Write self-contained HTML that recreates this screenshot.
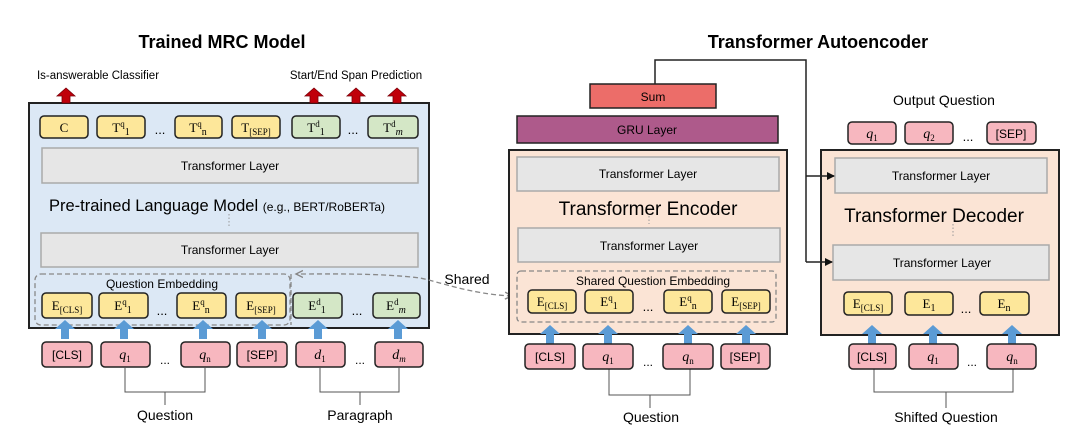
<!DOCTYPE html>
<html><head><meta charset="utf-8"><style>
body{margin:0;background:#fff;}
svg{display:block;font-family:"Liberation Sans",sans-serif;}
.s{font-family:"Liberation Serif",serif;}
</style></head><body>
<svg width="1080" height="436" viewBox="0 0 1080 436">
<defs>
<marker id="ah" markerWidth="8" markerHeight="8" refX="7" refY="4" orient="auto" markerUnits="userSpaceOnUse"><path d="M0,0 L8,4 L0,8 z" fill="#111"/></marker>
<marker id="ag" markerWidth="9" markerHeight="9" refX="7" refY="4.5" orient="auto" markerUnits="userSpaceOnUse"><path d="M0,1 L7,4.5 L0,8" fill="none" stroke="#888" stroke-width="1.4"/></marker>
<marker id="ags" markerWidth="9" markerHeight="9" refX="1" refY="4.5" orient="auto" markerUnits="userSpaceOnUse"><path d="M8,1 L1,4.5 L8,8" fill="none" stroke="#888" stroke-width="1.4"/></marker>
<g id="ra"><path d="M-4,14 V7 H-9 L0,-1 L9,7 H4 V14 z" fill="#c0000b" stroke="#7a0008" stroke-width="0.8"/></g>
<g id="ba"><path d="M-4,18 V8 H-10 L0,-1 L10,8 H4 V18 z" fill="#5b9bd5"/></g>
</defs>

<text x="222" y="48" font-size="18" font-weight="bold" text-anchor="middle">Trained MRC Model</text>
<text x="818" y="48" font-size="18" font-weight="bold" text-anchor="middle">Transformer Autoencoder</text>
<text x="98" y="79" font-size="11.5" text-anchor="middle">Is-answerable Classifier</text>
<text x="356" y="79" font-size="11.5" text-anchor="middle">Start/End Span Prediction</text>

<rect x="29" y="103" width="400" height="225" fill="#dce8f5" stroke="#222" stroke-width="2"/>
<use href="#ra" x="66" y="89"/><use href="#ra" x="314" y="89"/><use href="#ra" x="356" y="89"/><use href="#ra" x="397" y="89"/>
<g stroke="#222" stroke-width="1.5">
<rect x="40" y="116" width="48" height="22" rx="4" fill="#fde79a"/>
<rect x="97" y="116" width="48" height="22" rx="4" fill="#fde79a"/>
<rect x="175" y="116" width="47" height="22" rx="4" fill="#fde79a"/>
<rect x="232" y="116" width="48" height="22" rx="4" fill="#fde79a"/>
<rect x="292" y="116" width="48" height="22" rx="4" fill="#d4e7c6"/>
<rect x="368" y="116" width="50" height="22" rx="4" fill="#d4e7c6"/>
</g>
<g class="s" font-size="13" text-anchor="middle">
<text x="64" y="132" class="s">C</text>
<text x="121" y="132" class="s">T<tspan font-size="9" dy="-5">q</tspan><tspan font-size="10" dy="8">1</tspan></text>
<text x="198" y="132" class="s">T<tspan font-size="9" dy="-5">q</tspan><tspan font-size="10" dy="8">n</tspan></text>
<text x="256" y="132" class="s">T<tspan font-size="9" dy="3">[SEP]</tspan></text>
<text x="316" y="132" class="s">T<tspan font-size="9" dy="-5">d</tspan><tspan font-size="10" dy="8">1</tspan></text>
<text x="393" y="132" class="s">T<tspan font-size="9" dy="-5">d</tspan><tspan font-size="10" dy="8" font-style="italic">m</tspan></text>
</g>
<text x="160" y="134" font-size="13" text-anchor="middle">...</text>
<text x="353" y="134" font-size="13" text-anchor="middle">...</text>
<rect x="42" y="148" width="376" height="35" fill="#e6e6e6" stroke="#aaa" stroke-width="1.5"/>
<text x="230" y="170" font-size="12" text-anchor="middle">Transformer Layer</text>
<text x="49" y="211" font-size="16.5">Pre-trained Language Model <tspan font-size="12">(e.g., BERT/RoBERTa)</tspan></text>
<line x1="229" y1="214" x2="229" y2="226" stroke="#999" stroke-dasharray="1.5,2"/>
<rect x="41" y="233" width="377" height="34" fill="#e6e6e6" stroke="#aaa" stroke-width="1.5"/>
<text x="230" y="254" font-size="12" text-anchor="middle">Transformer Layer</text>
<rect x="35" y="274" width="255" height="51" rx="6" fill="none" stroke="#888" stroke-width="1.3" stroke-dasharray="5,3"/>
<text x="162" y="288" font-size="12" text-anchor="middle">Question Embedding</text>
<g stroke="#222" stroke-width="1.5">
<rect x="42" y="293" width="50" height="25" rx="4" fill="#fde79a"/>
<rect x="99" y="293" width="49" height="25" rx="4" fill="#fde79a"/>
<rect x="177" y="293" width="49" height="25" rx="4" fill="#fde79a"/>
<rect x="236" y="293" width="50" height="25" rx="4" fill="#fde79a"/>
<rect x="293" y="293" width="49" height="25" rx="4" fill="#d4e7c6"/>
<rect x="373" y="293" width="47" height="25" rx="4" fill="#d4e7c6"/>
</g>
<g font-size="13" text-anchor="middle">
<text x="67" y="310" class="s">E<tspan font-size="9" dy="3">[CLS]</tspan></text>
<text x="123" y="310" class="s">E<tspan font-size="9" dy="-5">q</tspan><tspan font-size="10" dy="8">1</tspan></text>
<text x="201" y="310" class="s">E<tspan font-size="9" dy="-5">q</tspan><tspan font-size="10" dy="8">n</tspan></text>
<text x="261" y="310" class="s">E<tspan font-size="9" dy="3">[SEP]</tspan></text>
<text x="317" y="310" class="s">E<tspan font-size="9" dy="-5">d</tspan><tspan font-size="10" dy="8">1</tspan></text>
<text x="396" y="310" class="s">E<tspan font-size="9" dy="-5">d</tspan><tspan font-size="10" dy="8" font-style="italic">m</tspan></text>
</g>
<text x="162" y="315" font-size="13" text-anchor="middle">...</text>
<text x="357" y="315" font-size="13" text-anchor="middle">...</text>
<use href="#ba" x="65" y="321"/><use href="#ba" x="124" y="321"/><use href="#ba" x="203" y="321"/><use href="#ba" x="262" y="321"/><use href="#ba" x="318" y="321"/><use href="#ba" x="398" y="321"/>
<g stroke="#222" stroke-width="1.5" fill="#f7b7bf">
<rect x="42" y="342" width="50" height="25" rx="4"/>
<rect x="101" y="342" width="49" height="25" rx="4"/>
<rect x="181" y="342" width="49" height="25" rx="4"/>
<rect x="237" y="342" width="50" height="25" rx="4"/>
<rect x="296" y="342" width="49" height="25" rx="4"/>
<rect x="375" y="342" width="48" height="25" rx="4"/>
</g>
<g font-size="12" text-anchor="middle">
<text x="67" y="359">[CLS]</text>
<text x="125" y="359" class="s" font-style="italic" font-size="14">q<tspan font-size="9" font-style="normal" dy="3">1</tspan></text>
<text x="205" y="359" class="s" font-style="italic" font-size="14">q<tspan font-size="9" font-style="normal" dy="3">n</tspan></text>
<text x="262" y="359">[SEP]</text>
<text x="320" y="359" class="s" font-style="italic" font-size="14">d<tspan font-size="9" font-style="normal" dy="3">1</tspan></text>
<text x="399" y="359" class="s" font-style="italic" font-size="14">d<tspan font-size="9" dy="3">m</tspan></text>
</g>
<text x="165" y="364" font-size="12" text-anchor="middle">...</text>
<text x="360" y="364" font-size="12" text-anchor="middle">...</text>
<g stroke="#555" fill="none" stroke-width="1">
<path d="M125,367 V392 H205 V367 M165,392 V405"/>
<path d="M320,367 V392 H399 V367 M360,392 V405"/>
<path d="M609,369 V395 H690 V369 M650,395 V408"/>
<path d="M874,369 V392 H1013 V369 M946,392 V408"/>
</g>
<text x="165" y="420" font-size="14" text-anchor="middle">Question</text>
<text x="360" y="420" font-size="14" text-anchor="middle">Paragraph</text>
<text x="651" y="422" font-size="14" text-anchor="middle">Question</text>
<text x="946" y="422" font-size="14" text-anchor="middle">Shifted Question</text>

<path d="M291,274 V325" stroke="#888" stroke-width="1.3" stroke-dasharray="5,3" fill="none"/>
<path d="M512,296 C470,294 440,282 420,278 C380,273 330,274 296,274" stroke="#888" stroke-width="1.3" stroke-dasharray="5,3" fill="none" marker-start="url(#ags)" marker-end="url(#ag)"/>
<text x="467" y="284" font-size="14" text-anchor="middle">Shared</text>

<rect x="590" y="84" width="126" height="24" fill="#ec6d69" stroke="#222" stroke-width="1.5"/>
<text x="653" y="101" font-size="12" text-anchor="middle">Sum</text>
<rect x="517" y="116" width="261" height="27" fill="#ae5a8b" stroke="#222" stroke-width="1.5"/>
<text x="647" y="134" font-size="12" text-anchor="middle">GRU Layer</text>
<rect x="509" y="150" width="278" height="184" fill="#fbe4d5" stroke="#222" stroke-width="2"/>
<rect x="517" y="157" width="262" height="34" fill="#e6e6e6" stroke="#aaa" stroke-width="1.5"/>
<text x="648" y="178" font-size="12" text-anchor="middle">Transformer Layer</text>
<text x="648" y="215" font-size="19" text-anchor="middle">Transformer Encoder</text>
<line x1="649" y1="216" x2="649" y2="224" stroke="#999" stroke-dasharray="1.5,2"/>
<rect x="518" y="228" width="262" height="34" fill="#e6e6e6" stroke="#aaa" stroke-width="1.5"/>
<text x="649" y="250" font-size="12" text-anchor="middle">Transformer Layer</text>
<rect x="517" y="271" width="259" height="51" rx="4" fill="none" stroke="#888" stroke-width="1.3" stroke-dasharray="5,3"/>
<text x="653" y="285" font-size="12" text-anchor="middle">Shared Question Embedding</text>
<g stroke="#222" stroke-width="1.5" fill="#fde79a">
<rect x="528" y="290" width="48" height="23" rx="4"/>
<rect x="585" y="290" width="48" height="23" rx="4"/>
<rect x="664" y="290" width="48" height="23" rx="4"/>
<rect x="722" y="290" width="48" height="23" rx="4"/>
</g>
<g font-size="13" text-anchor="middle">
<text x="552" y="306" class="s">E<tspan font-size="9" dy="3">[CLS]</tspan></text>
<text x="609" y="306" class="s">E<tspan font-size="9" dy="-5">q</tspan><tspan font-size="10" dy="8">1</tspan></text>
<text x="688" y="306" class="s">E<tspan font-size="9" dy="-5">q</tspan><tspan font-size="10" dy="8">n</tspan></text>
<text x="746" y="306" class="s">E<tspan font-size="9" dy="3">[SEP]</tspan></text>
</g>
<text x="648" y="311" font-size="13" text-anchor="middle">...</text>
<use href="#ba" x="550" y="326"/><use href="#ba" x="608" y="326"/><use href="#ba" x="688" y="326"/><use href="#ba" x="746" y="326"/>
<g stroke="#222" stroke-width="1.5" fill="#f7b7bf">
<rect x="525" y="344" width="50" height="25" rx="4"/>
<rect x="583" y="344" width="50" height="25" rx="4"/>
<rect x="663" y="344" width="50" height="25" rx="4"/>
<rect x="721" y="344" width="49" height="25" rx="4"/>
</g>
<g font-size="12" text-anchor="middle">
<text x="550" y="361">[CLS]</text>
<text x="608" y="361" class="s" font-style="italic" font-size="14">q<tspan font-size="9" font-style="normal" dy="3">1</tspan></text>
<text x="688" y="361" class="s" font-style="italic" font-size="14">q<tspan font-size="9" font-style="normal" dy="3">n</tspan></text>
<text x="745" y="361">[SEP]</text>
</g>
<text x="648" y="366" font-size="12" text-anchor="middle">...</text>

<text x="944" y="105" font-size="14" text-anchor="middle">Output Question</text>
<g stroke="#222" stroke-width="1.5" fill="#f7b7bf">
<rect x="848" y="122" width="48" height="22" rx="4"/>
<rect x="905" y="122" width="48" height="22" rx="4"/>
<rect x="987" y="122" width="49" height="22" rx="4"/>
</g>
<text x="872" y="138" class="s" font-style="italic" font-size="14" text-anchor="middle">q<tspan font-size="9" font-style="normal" dy="3">1</tspan></text>
<text x="929" y="138" class="s" font-style="italic" font-size="14" text-anchor="middle">q<tspan font-size="9" font-style="normal" dy="3">2</tspan></text>
<text x="1011" y="138" font-size="12" text-anchor="middle">[SEP]</text>
<text x="968" y="141" font-size="13" text-anchor="middle">...</text>
<rect x="821" y="150" width="238" height="185" fill="#fbe4d5" stroke="#222" stroke-width="2"/>
<rect x="835" y="158" width="212" height="35" fill="#e6e6e6" stroke="#aaa" stroke-width="1.5"/>
<text x="941" y="180" font-size="12" text-anchor="middle">Transformer Layer</text>
<text x="934" y="222" font-size="19" text-anchor="middle">Transformer Decoder</text>
<line x1="953" y1="224" x2="953" y2="238" stroke="#999" stroke-dasharray="1.5,2"/>
<rect x="833" y="245" width="216" height="35" fill="#e6e6e6" stroke="#aaa" stroke-width="1.5"/>
<text x="942" y="267" font-size="12" text-anchor="middle">Transformer Layer</text>
<g stroke="#222" stroke-width="1.5" fill="#fde79a">
<rect x="844" y="292" width="48" height="23" rx="4"/>
<rect x="905" y="292" width="48" height="23" rx="4"/>
<rect x="980" y="292" width="49" height="23" rx="4"/>
</g>
<text x="868" y="308" class="s" font-size="13" text-anchor="middle">E<tspan font-size="9" dy="3">[CLS]</tspan></text>
<text x="929" y="308" class="s" font-size="13" text-anchor="middle">E<tspan font-size="10" dy="3">1</tspan></text>
<text x="1004" y="308" class="s" font-size="13" text-anchor="middle">E<tspan font-size="10" dy="3">n</tspan></text>
<text x="966" y="313" font-size="13" text-anchor="middle">...</text>
<use href="#ba" x="872" y="326"/><use href="#ba" x="933" y="326"/><use href="#ba" x="1012" y="326"/>
<g stroke="#222" stroke-width="1.5" fill="#f7b7bf">
<rect x="849" y="344" width="47" height="25" rx="4"/>
<rect x="909" y="344" width="49" height="25" rx="4"/>
<rect x="987" y="344" width="49" height="25" rx="4"/>
</g>
<text x="872" y="361" font-size="12" text-anchor="middle">[CLS]</text>
<text x="933" y="361" class="s" font-style="italic" font-size="14" text-anchor="middle">q<tspan font-size="9" font-style="normal" dy="3">1</tspan></text>
<text x="1012" y="361" class="s" font-style="italic" font-size="14" text-anchor="middle">q<tspan font-size="9" font-style="normal" dy="3">n</tspan></text>
<text x="972" y="366" font-size="12" text-anchor="middle">...</text>

<path d="M655,84 V60 H806 V262" stroke="#222" stroke-width="1.5" fill="none"/>
<line x1="806" y1="176" x2="834" y2="176" stroke="#222" stroke-width="1.5" marker-end="url(#ah)"/>
<line x1="806" y1="262" x2="832" y2="262" stroke="#222" stroke-width="1.5" marker-end="url(#ah)"/>
</svg>
</body></html>
